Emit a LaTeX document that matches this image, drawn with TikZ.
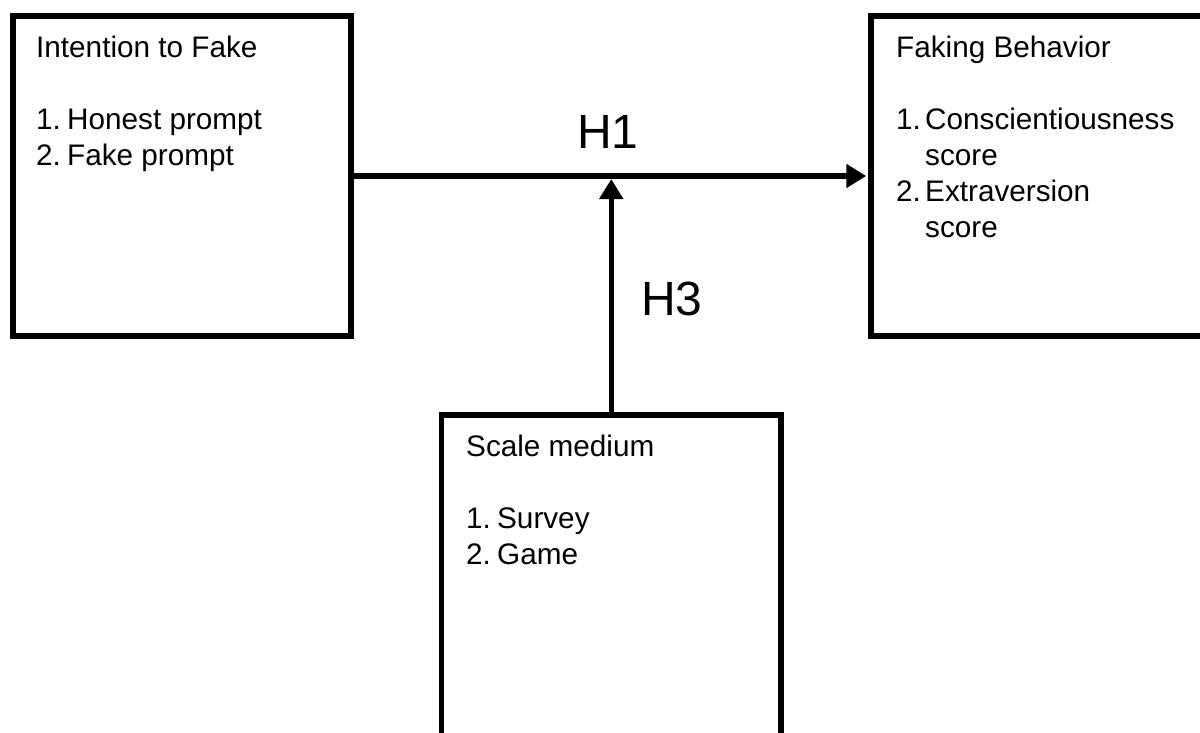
\documentclass[tikz,border=0pt]{standalone}
\usepackage{fontspec}
\setmainfont{Liberation Sans}
\usetikzlibrary{arrows.meta}
\tikzset{
  box/.style={draw=black, line width=5.5pt, rectangle, inner sep=0pt},
  boxtext/.style={anchor=base west, inner sep=0pt, font=\fontsize{29.7}{36}\selectfont},
  hyp/.style={inner sep=0pt, font=\fontsize{48}{56}\selectfont},
  conn/.style={line width=5.5pt, -{Triangle[length=20pt,width=23pt]}}
}
\begin{document}
\begin{tikzpicture}[x=1pt,y=-1pt]
\useasboundingbox (0,0) rectangle (1200,732);
\clip (0,0) rectangle (1200,732);
\fill[white] (0,0) rectangle (1200,732);
% boxes
\node[box, minimum width=338pt, minimum height=320pt] (left) at (182,176) {};
\node[box, minimum width=359pt, minimum height=320pt] (right) at (1050.5,176) {};
\node[box, minimum width=339.5pt, minimum height=345pt] (bottom) at (611.25,587.5) {};
% texts
\node[boxtext] (lefttext) at (36,57.5) {\begin{tabular}[t]{@{}p{31pt}@{}l@{}}
\multicolumn{2}{@{}l@{}}{Intention to Fake}\\
 & \\
1. & Honest prompt\\
2. & Fake prompt
\end{tabular}};
\node[boxtext] (righttext) at (896,57.5) {\begin{tabular}[t]{@{}p{29pt}@{}l@{}}
\multicolumn{2}{@{}l@{}}{Faking Behavior}\\
 & \\
1. & Conscientiousness\\
 & score\\
2. & Extraversion\\
 & score
\end{tabular}};
\node[boxtext] (bottomtext) at (466,456.5) {\begin{tabular}[t]{@{}p{31pt}@{}l@{}}
\multicolumn{2}{@{}l@{}}{Scale medium}\\
 & \\
1. & Survey\\
2. & Game
\end{tabular}};
% connectors
\coordinate (meet) at (bottom.north |- left.east);
\draw[conn, shorten >=2pt] (left.east) -- (right.west);
\draw[conn, shorten >=3pt] (bottom.north) -- (meet);
% hypothesis labels
\node[hyp] (h1) at (608,132) {H1};
\node[hyp] (h3) at (672,299) {H3};
\end{tikzpicture}
\end{document}
